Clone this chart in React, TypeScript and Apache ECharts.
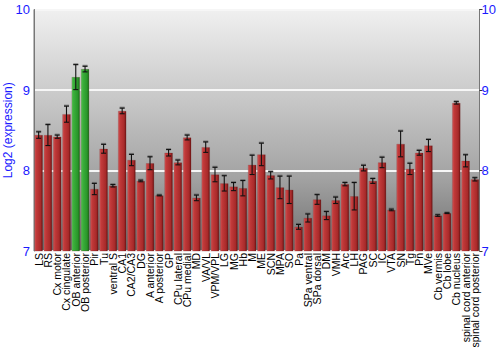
import React, { useEffect, useRef } from "react";
import * as echarts from "echarts";

const categories = [
  "LS", "RS", "Cx motor", "Cx cingulate", "OB anterior", "OB posterior", "Pir", "Tu",
  "ventral S", "CA1", "CA2/CA3", "DG", "A anterior", "A posterior", "GP", "CPu lateral",
  "CPu medial", "MD", "VA/VL", "VPM/VPL", "LG", "MG", "Hb", "M", "ME", "SCN", "MPA", "SO",
  "Pa", "SPa ventral", "SPa dorsal", "DM", "VMH", "Arc", "LH", "PAG", "SC", "IC", "VTA",
  "SN", "Tg", "Pn", "MVe", "Cb vermis", "Cb lobe", "Cb nucleus", "spinal cord anterior",
  "spinal cord posterior",
];

const values = [
  8.44, 8.44, 8.42, 8.70, 9.16, 9.26, 7.77, 8.27,
  7.81, 8.74, 8.13, 7.87, 8.09, 7.69, 8.22, 8.10,
  8.41, 7.66, 8.29, 7.95, 7.84, 7.80, 7.78, 8.07, 8.20, 7.94, 7.79, 7.76,
  7.30, 7.41, 7.64, 7.44, 7.63, 7.83, 7.68, 8.03, 7.87, 8.10, 7.51,
  8.33, 8.02, 8.22, 8.31, 7.44, 7.47, 8.84, 8.12,
  7.89,
];

const errors = [
  0.04, 0.13, 0.02, 0.10, 0.155, 0.035, 0.07, 0.055,
  0.015, 0.035, 0.07, 0.01, 0.08, 0.005, 0.04, 0.03,
  0.03, 0.035, 0.065, 0.09, 0.095, 0.05, 0.095, 0.12, 0.14, 0.045, 0.14, 0.17,
  0.03, 0.05, 0.06, 0.05, 0.04, 0.02, 0.17, 0.035, 0.03, 0.065, 0.01,
  0.16, 0.07, 0.03, 0.075, 0.01, 0.005, 0.015, 0.075,
  0.02,
];

const highlighted = ["OB anterior", "OB posterior"];

const yTicks = [7, 8, 9, 10];

const redGrad = () =>
  new echarts.graphic.LinearGradient(0, 0, 1, 0, [
    { offset: 0, color: "#d45a5a" },
    { offset: 0.2, color: "#c23a3a" },
    { offset: 0.75, color: "#a82a2a" },
    { offset: 1, color: "#6e1414" },
  ]);
const greenGrad = () =>
  new echarts.graphic.LinearGradient(0, 0, 1, 0, [
    { offset: 0, color: "#5ccc5c" },
    { offset: 0.2, color: "#3cb03c" },
    { offset: 0.75, color: "#2a962a" },
    { offset: 1, color: "#146e14" },
  ]);

export default function App() {
  const ref = useRef<HTMLDivElement>(null);
  useEffect(() => {
    if (!ref.current) return;
    document.body.style.margin = "0";
    const chart = echarts.init(ref.current, undefined, { renderer: "svg" });
    const font = "Liberation Sans";
    const blue = "#1a1aff";
    const barData = values.map((v, i) => ({
      value: v,
      itemStyle: {
        color: highlighted.includes(categories[i]) ? greenGrad() : redGrad(),
      },
    }));
    const errData = values.map((v, i) => [i, v - errors[i], v + errors[i]]);
    chart.setOption({
      animation: false,
      grid: {
        left: 34,
        right: 20.5,
        top: 9.5,
        bottom: 99,
        containLabel: false,
        outerBoundsMode: "none",
        show: true,
        borderColor: "#777",
        borderWidth: 1,
        backgroundColor: new echarts.graphic.LinearGradient(0, 0, 0, 1, [
          { offset: 0, color: "#f0f0f0" },
          { offset: 0.35, color: "#cacaca" },
          { offset: 0.7, color: "#a2a2a2" },
          { offset: 1, color: "#6e6e6e" },
        ]),
      },
      xAxis: {
        type: "category",
        data: categories,
        axisLine: { show: false },
        axisTick: { show: false },
        axisLabel: {
          interval: 0,
          rotate: 90,
          fontSize: 10.5,
          fontFamily: font,
          color: "#000",
          margin: 2,
        },
      },
      yAxis: [
        {
          type: "value",
          min: 7,
          max: 10,
          interval: 1,
          position: "left",
          name: "Log2 (expression)",
          nameLocation: "middle",
          nameGap: 20,
          nameMoveOverlap: false,
          nameTextStyle: { color: blue, fontSize: 12, fontFamily: font },
          axisLine: { show: true, lineStyle: { color: "#777" } },
          axisTick: { show: false },
          axisLabel: {
            color: blue,
            fontSize: 13,
            fontFamily: font,
            margin: 4,
            formatter: (v: number) => (yTicks.includes(v) ? String(v) : ""),
          },
          splitLine: { show: true, lineStyle: { color: "#f6f6f6", width: 1.8 } },
        },
        {
          type: "value",
          min: 7,
          max: 10,
          interval: 1,
          position: "right",
          axisLine: { show: true, lineStyle: { color: "#777" } },
          axisTick: { show: true, length: 3, lineStyle: { color: "#333" } },
          axisLabel: {
            color: blue,
            fontSize: 13,
            fontFamily: font,
            margin: 2,
            formatter: (v: number) => (yTicks.includes(v) ? String(v) : ""),
          },
          splitLine: { show: false },
        },
      ],
      series: [
        {
          type: "bar",
          data: barData,
          barCategoryGap: "11%",
          yAxisIndex: 0,
          itemStyle: { borderColor: "rgba(90,20,20,0.35)", borderWidth: 0.5 },
        },
        {
          type: "custom",
          yAxisIndex: 0,
          data: errData,
          z: 10,
          renderItem: (params: any, api: any) => {
            const x = api.value(0);
            const lo = api.coord([x, api.value(1)]);
            const hi = api.coord([x, api.value(2)]);
            const cap = 2.5;
            const style = { stroke: "#111", lineWidth: 1.1 };
            const shadow = { stroke: "rgba(80,80,80,0.55)", lineWidth: 2 };
            return {
              type: "group",
              children: [
                { type: "line", shape: { x1: hi[0] - cap, y1: hi[1] - 0.5, x2: hi[0] + cap, y2: hi[1] - 0.5 }, style: shadow },
                { type: "line", shape: { x1: hi[0], y1: hi[1], x2: lo[0], y2: lo[1] }, style },
                { type: "line", shape: { x1: hi[0] - cap, y1: hi[1], x2: hi[0] + cap, y2: hi[1] }, style },
                { type: "line", shape: { x1: lo[0] - cap, y1: lo[1], x2: lo[0] + cap, y2: lo[1] }, style },
              ],
            };
          },
        },
      ],
    });
    return () => chart.dispose();
  }, []);
  return <div ref={ref} style={{ width: 500, height: 350 }} />;
}
